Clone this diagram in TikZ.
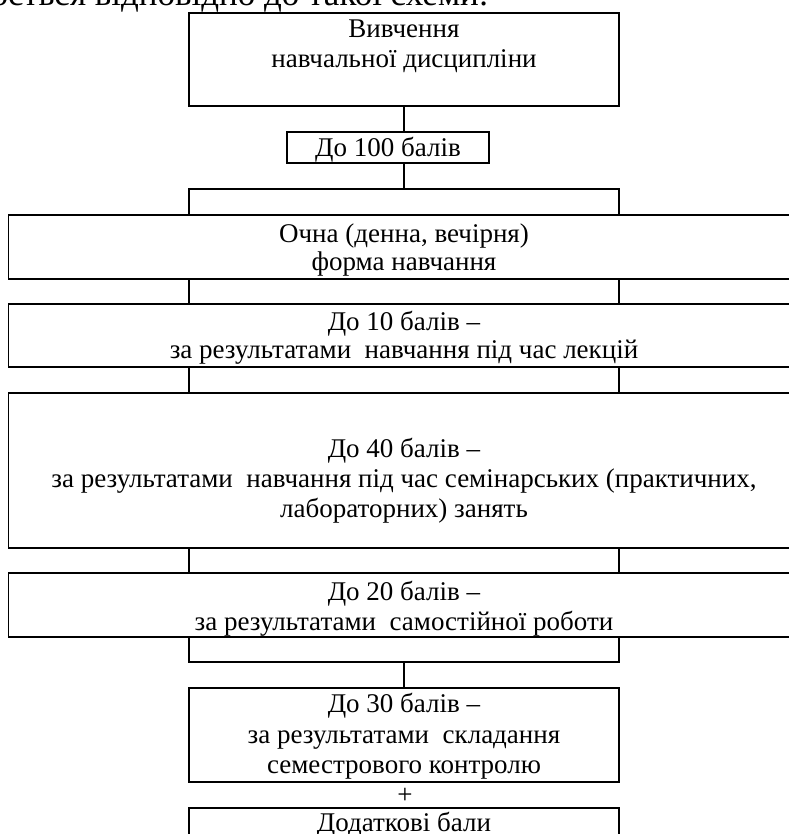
\documentclass[tikz,border=0pt]{standalone}
\usepackage{fontspec}
\setmainfont{Liberation Serif}
\begin{document}
\begin{tikzpicture}[x=1pt,y=-1pt,
  boxx/.style={draw, line width=1.8pt, inner sep=0pt, outer sep=0pt},
  lnk/.style={line width=1.8pt, line join=miter},
  txt/.style={font=\fontsize{27}{30}\selectfont, anchor=base, inner sep=0pt},
  bodytxt/.style={font=\fontsize{35}{40}\selectfont, inner sep=0pt}]
\useasboundingbox (0,0) rectangle (788,834);
% partial line of surrounding text (clipped at top of the page)
\node[bodytxt, anchor=base west] (top) at (8,5.5) {\llap{здійсню}ється відповідно до такої схеми:};
% boxes
\node[boxx, minimum width=430pt, minimum height=93pt] (b1) at (404,59.5) {};
\node[boxx, minimum width=202pt, minimum height=31pt] (b100) at (388,147.5) {};
\node[boxx, minimum width=791.5pt, minimum height=64pt] (bO) at (404.25,247) {};
\node[boxx, minimum width=791.5pt, minimum height=63pt] (b10) at (404.25,335.5) {};
\node[boxx, minimum width=791.5pt, minimum height=155pt] (b40) at (404.25,470.5) {};
\node[boxx, minimum width=791.5pt, minimum height=64pt] (b20) at (404.25,605) {};
\node[boxx, minimum width=430pt, minimum height=94pt] (b30) at (404,735) {};
\node[boxx, minimum width=430pt, minimum height=62pt] (bD) at (404,839) {};
% texts
\node[txt] (t1a) at (404,38) {Вивчення};
\node[txt] (t1b) at (404,68) {навчальної дисципліни};
\node[txt] (t100) at (388,156.5) {До 100 балів};
\node[txt] (tOa) at (404,242) {Очна (денна, вечірня)};
\node[txt] (tOb) at (404,270) {форма навчання};
\node[txt] (t10a) at (404,330) {До 10 балів –};
\node[txt] (t10b) at (404,358) {за результатами~ навчання під час лекцій};
\node[txt] (t40a) at (404,457) {До 40 балів –};
\node[txt] (t40b) at (404,487) {за результатами~ навчання під час семінарських (практичних,};
\node[txt] (t40c) at (404,517) {лабораторних) занять};
\node[txt] (t20a) at (404,600) {До 20 балів –};
\node[txt] (t20b) at (404,630) {за результатами~ самостійної роботи};
\node[txt] (t30a) at (404,712) {До 30 балів –};
\node[txt] (t30b) at (404,743) {за результатами~ складання};
\node[txt] (t30c) at (404,773) {семестрового контролю};
\node[txt] (plus) at (405,803) {+};
\node[txt] (tD) at (404,831) {Додаткові бали};
% bracket coordinates
\coordinate (brA) at (404,189);
\coordinate (brAl) at (189,189);
\coordinate (brAr) at (619,189);
\coordinate (brB) at (404,662);
\coordinate (brBl) at (189,662);
\coordinate (brBr) at (619,662);
% connectors
\draw[lnk] (b1.south) -- (b1.south |- b100.north);
\draw[lnk] (b100.south -| brA) -- (brA);
\draw[lnk] (bO.north -| brAl) -- (brAl) -- (brAr) -- (bO.north -| brAr);
\draw[lnk] (bO.south -| brAl) -- (b10.north -| brAl);
\draw[lnk] (bO.south -| brAr) -- (b10.north -| brAr);
\draw[lnk] (b10.south -| brAl) -- (b40.north -| brAl);
\draw[lnk] (b10.south -| brAr) -- (b40.north -| brAr);
\draw[lnk] (b40.south -| brAl) -- (b20.north -| brAl);
\draw[lnk] (b40.south -| brAr) -- (b20.north -| brAr);
\draw[lnk] (b20.south -| brBl) -- (brBl) -- (brBr) -- (b20.south -| brBr);
\draw[lnk] (brB) -- (b30.north);
\end{tikzpicture}
\end{document}
